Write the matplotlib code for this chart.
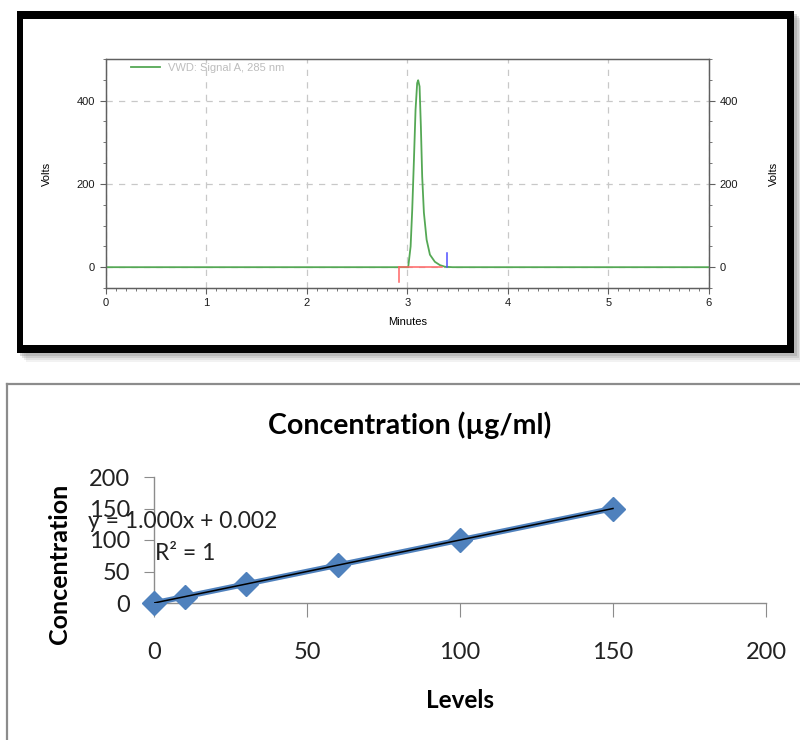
import matplotlib
matplotlib.use("Agg")
from matplotlib import pyplot as plt
from matplotlib.patches import Rectangle
from matplotlib.lines import Line2D
from matplotlib.ticker import MultipleLocator

# chromatogram trace (minutes, volts)
trace_t = [0.0, 2.90, 3.009, 3.033, 3.049, 3.066, 3.082, 3.098, 3.108, 3.122,
           3.135, 3.148, 3.165, 3.192, 3.225, 3.274, 3.324, 3.375, 3.45, 6.0]
trace_v = [0, 0, 0, 50, 138, 258, 378, 442, 449, 434,
           338, 218, 131, 66, 30, 13, 5, 1, 0, 0]
peak_start = 2.92
peak_end = 3.35
peak_mark = 3.39
signal_name = "VWD: Signal A, 285 nm"

# calibration data
levels = [0, 10, 30, 60, 100, 150]
conc = [0, 10, 30, 60, 100, 150]
slope = 1.000
intercept = 0.002
r2 = 1

W, H = 800, 740
fig = plt.figure(figsize=(8, 7.4), dpi=100)


def fx(px):
    return px / W


def fy(py):
    return 1 - py / H


def rect(x0, y0, x1, y1, **kw):
    r = Rectangle((fx(x0), fy(y1)), fx(x1) - fx(x0), fy(y0) - fy(y1),
                  transform=fig.transFigure, **kw)
    fig.patches.append(r)


# shadow + black frame of the top panel
for i, a in enumerate([0.10, 0.14, 0.20, 0.28]):
    d = 9 - 2 * i
    rect(17 + d, 11 + d, 794 + d, 353 + d, facecolor="#808080", alpha=a, lw=0, zorder=0)
rect(17, 11, 794, 353, facecolor="black", lw=0, zorder=1)
rect(23, 19, 787, 345, facecolor="white", lw=0, zorder=2)

# grey frame of the bottom panel
fig.add_artist(Line2D([fx(7), fx(800)], [fy(384), fy(384)], color="#8c8c8c", lw=1.6,
                      transform=fig.transFigure))
fig.add_artist(Line2D([fx(7), fx(7)], [fy(384), fy(740)], color="#8c8c8c", lw=1.6,
                      transform=fig.transFigure))

narrow = ["Liberation Sans Narrow", "Liberation Sans", "DejaVu Sans"]

# ---- top: chromatogram ----
ax1 = fig.add_axes([fx(105.6), fy(288), fx(709) - fx(105.6), fy(59) - fy(288)])
ax1.set_zorder(5)
ax1.set_xlim(0, 6)
ax1.set_ylim(-50, 500)
ax1.xaxis.set_major_locator(MultipleLocator(1))
ax1.xaxis.set_minor_locator(MultipleLocator(0.1))
ax1.yaxis.set_major_locator(MultipleLocator(200))
ax1.yaxis.set_minor_locator(MultipleLocator(50))
ax1.grid(True, which="major", color="#c8c8c8", ls=(0, (5, 5)), lw=0.9)
for s in ax1.spines.values():
    s.set_color("#606060")
    s.set_linewidth(1)
ax1.tick_params(which="both", direction="out", color="#606060", labelsize=8,
                labelcolor="#1a1a1a")
ax1.tick_params(which="major", length=4)
ax1.tick_params(which="minor", length=2.5)
ax1.tick_params(axis="x", which="minor", top=False)

ax1.plot(trace_t, trace_v, color="#55a855", lw=1.3, label=signal_name, zorder=3)
ax1.plot([peak_start, peak_end], [0, 0], color="#ff6464", lw=1.1, zorder=4)
ax1.plot([peak_start, peak_start], [0, -35], color="#ff6464", lw=1.1, zorder=4)
ax1.plot([peak_mark, peak_mark], [0, 35], color="#5050ff", lw=1.1, zorder=4)

ax1.set_xlabel("Minutes", fontsize=8, family=narrow, labelpad=6)
ax1.set_ylabel("Volts", fontsize=8, family=narrow, labelpad=18)
for lab in ax1.get_xticklabels() + ax1.get_yticklabels():
    lab.set_family(narrow)

leg = ax1.legend(loc="upper left", bbox_to_anchor=(0.025, 1.025), frameon=False,
                 handlelength=2.6, prop={"family": narrow, "size": 8})
for t in leg.get_texts():
    t.set_color("#bdbdbd")

ax1r = ax1.twinx()
ax1r.set_zorder(5)
ax1r.set_ylim(-50, 500)
ax1r.yaxis.set_major_locator(MultipleLocator(200))
ax1r.yaxis.set_minor_locator(MultipleLocator(50))
ax1r.tick_params(which="both", direction="out", color="#606060", labelsize=8,
                 labelcolor="#1a1a1a")
ax1r.tick_params(which="major", length=4)
ax1r.tick_params(which="minor", length=2.5)
for lab in ax1r.get_yticklabels():
    lab.set_family(narrow)
ax1r.set_ylabel("Volts", fontsize=8, family=narrow, labelpad=22)
for s in ax1r.spines.values():
    s.set_color("#606060")

# ---- bottom: calibration ----
xl = ["Lato", "DejaVu Sans"]
ax2 = fig.add_axes([fx(154), fy(603), fx(766) - fx(154), fy(477) - fy(603)])
ax2.set_xlim(0, 200)
ax2.set_ylim(0, 200)
ax2.xaxis.set_major_locator(MultipleLocator(50))
ax2.yaxis.set_major_locator(MultipleLocator(50))
ax2.spines["top"].set_visible(False)
ax2.spines["right"].set_visible(False)
for s in ("left", "bottom"):
    ax2.spines[s].set_color("#8c8c8c")
    ax2.spines[s].set_linewidth(1)
ax2.tick_params(axis="x", direction="out", length=10, color="#8c8c8c", pad=18,
                labelsize=17, labelcolor="#222222")
ax2.tick_params(axis="y", direction="out", length=7, color="#8c8c8c", pad=10,
                labelsize=17, labelcolor="#222222")
for lab in ax2.get_xticklabels() + ax2.get_yticklabels():
    lab.set_family(xl)

ax2.plot(levels, conc, color="#4f81bd", lw=4, marker="D", ms=12, mfc="#4f81bd",
         mec="#4f81bd", clip_on=False, zorder=3)
tx = [levels[0], levels[-1]]
ax2.plot(tx, [slope * v + intercept for v in tx], color="black", lw=1.1, zorder=4)

fig.text(fx(410), fy(425), "Concentration (µg/ml)", ha="center", va="center",
         fontsize=20.5, fontweight="bold", family=xl)
fig.text(fx(60), fy(564), "Concentration", ha="center", va="center", rotation=90,
         fontsize=18, fontweight="bold", family=xl)
fig.text(fx(460), fy(700), "Levels", ha="center", va="center",
         fontsize=17.5, fontweight="bold", family=xl)
fig.text(fx(88), fy(522), "y = %.3fx + %.3f" % (slope, intercept), ha="left",
         va="center", fontsize=16.5, family=xl, color="#222222", zorder=6)
fig.text(fx(155), fy(553), "R² = %d" % r2, ha="left", va="center",
         fontsize=16.5, family=xl, color="#222222", zorder=6)

fig.savefig("out.png", dpi=100, facecolor="white")
